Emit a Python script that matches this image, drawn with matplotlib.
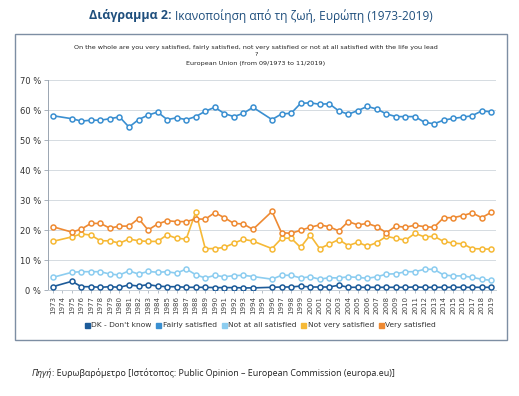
import numpy as np
import matplotlib
matplotlib.use("Agg")
import matplotlib.pyplot as plt
from matplotlib.patches import Rectangle
from matplotlib.lines import Line2D

nan = np.nan
years = [str(y) for y in range(1973, 2020)]

# values in %, 1974 and 1995 have no survey
dk_dont_know = [1.1, nan, 2.9, 1.1, 1.1, 0.9, 1.1, 0.9, 1.7, 1.3, 1.8, 1.3, 1.1, 1.1, 0.9, 0.9,
                0.9, 0.8, 0.8, 0.8, 0.7, 0.7, nan, 0.9, 1.0, 1.0, 1.3, 1.0, 1.0, 1.0, 1.6,
                0.9, 0.9, 0.9, 0.9, 0.9, 0.9, 0.9, 1.0, 0.9, 0.9, 0.9, 0.9, 0.9, 0.9, 0.9, 0.9]
fairly_satisfied = [58.1, nan, 57.1, 56.3, 56.6, 56.6, 57.1, 57.7, 54.3, 56.8, 58.3, 59.3, 56.8,
                    57.4, 56.8, 57.8, 59.6, 60.9, 58.8, 57.8, 58.9, 60.9, nan, 56.8, 58.7, 58.9,
                    62.2, 62.4, 61.9, 62.1, 59.7, 58.6, 59.8, 61.2, 60.3, 58.7, 57.8, 57.8, 57.8,
                    55.9, 55.4, 56.6, 57.2, 57.6, 58.1, 59.7, 59.4]
not_at_all = [4.2, nan, 5.9, 6.1, 6.1, 6.1, 5.3, 5.0, 6.4, 5.3, 6.2, 5.9, 6.1, 5.6, 7.0, 5.1,
              4.0, 4.9, 4.4, 4.8, 4.9, 4.5, nan, 3.6, 4.9, 4.9, 4.0, 4.4, 3.6, 4.1, 4.0, 4.4,
              4.2, 3.9, 4.4, 5.3, 5.4, 6.1, 6.1, 6.9, 6.9, 5.0, 4.7, 4.7, 4.2, 3.6, 3.2]
not_very = [16.2, nan, 17.7, 18.7, 18.3, 16.4, 16.4, 15.6, 17.0, 16.4, 16.2, 16.2, 18.4, 17.2,
            17.0, 26.0, 13.8, 13.8, 14.2, 15.6, 16.9, 16.3, nan, 13.8, 17.2, 17.3, 14.2, 18.3,
            13.8, 15.3, 16.8, 14.8, 15.9, 14.6, 15.8, 17.9, 17.2, 16.6, 18.9, 17.7, 17.9,
            16.2, 15.6, 15.4, 13.8, 13.7, 13.6]
very_satisfied = [21.1, nan, 19.3, 20.3, 22.2, 22.2, 20.6, 21.3, 21.3, 23.8, 20.0, 22.0, 23.1,
                  22.8, 22.8, 23.7, 23.6, 25.8, 24.1, 22.2, 22.0, 20.2, nan, 26.2, 19.1, 18.9,
                  19.9, 20.9, 21.7, 21.1, 19.7, 22.8, 21.7, 22.2, 21.1, 19.1, 21.3, 20.9, 21.6,
                  21.1, 20.9, 24.1, 24.1, 24.8, 25.7, 24.1, 25.9]

series = [("DK - Don't know", dk_dont_know, "#1d5b99"),
          ("Fairly satisfied", fairly_satisfied, "#3a8fd1"),
          ("Not at all satisfied", not_at_all, "#8ccdf0"),
          ("Not very satisfied", not_very, "#f6b936"),
          ("Very satisfied", very_satisfied, "#ee8a33")]

W, H = 519, 396
fig = plt.figure(figsize=(W / 100, H / 100), dpi=100)
fig.patch.set_facecolor("white")

# outer frame of the chart box
fig.patches.append(Rectangle((15 / W, 1 - 340 / H), 492 / W, 306 / H, transform=fig.transFigure,
                             fill=False, edgecolor="#7d8ea3", linewidth=1.0))

ax = fig.add_axes([48 / W, 1 - 290 / H, 448 / W, 210 / H])
x = np.arange(len(years))
for name, vals, col in series:
    v = np.array(vals, dtype=float)
    ok = ~np.isnan(v)
    ax.plot(x[ok], v[ok], color=col, linewidth=1.2, marker="o", markersize=3.6,
            markerfacecolor="white", markeredgecolor=col, markeredgewidth=1.1, zorder=3)

ax.set_xlim(-0.5, len(years) - 0.5)
ax.set_ylim(0, 70)
ax.set_yticks(range(0, 71, 10))
ax.set_yticklabels([f"{t} %" for t in range(0, 71, 10)])
ax.set_xticks(x)
ax.set_xticklabels(years, rotation=90)
ax.tick_params(axis="y", labelsize=6, colors="#333333", length=3, width=0.6, color="#9aa5b1", pad=2)
ax.tick_params(axis="x", labelsize=5.1, colors="#444444", length=2, width=0.5, color="#9aa5b1", pad=2)
ax.grid(axis="y", color="#d5dbe1", linewidth=0.7)
ax.set_axisbelow(True)
for s in ["top", "right"]:
    ax.spines[s].set_visible(False)
ax.spines["left"].set_color("#9aa5b1")
ax.spines["bottom"].set_color("#c8d0d8")
ax.spines["left"].set_linewidth(0.7)
ax.spines["bottom"].set_linewidth(0.7)

handles = [Line2D([], [], marker="s", linestyle="none", markersize=3.6, color=c) for _, _, c in series]
fig.legend(handles, [n for n, _, _ in series], loc="center", bbox_to_anchor=(260 / W, 1 - 325 / H),
           ncol=5, frameon=False, fontsize=5.4, handletextpad=0.2, columnspacing=0.5,
           handlelength=0.8, labelcolor="#333333")

# inner titles
fig.text(256 / W, 1 - 47 / H,
         "On the whole are you very satisfied, fairly satisfied, not very satisfied or not at all satisfied with the life you lead",
         ha="center", va="center", fontsize=4.6, color="#222222")
fig.text(256 / W, 1 - 55 / H, "?", ha="center", va="center", fontsize=4.6, color="#222222")
fig.text(256 / W, 1 - 63 / H, "European Union (from 09/1973 to 11/2019)", ha="center", va="center",
         fontsize=4.6, color="#222222")

# main title in two weights
fig.text(172 / W, 1 - 16 / H, "Διάγραμμα 2:", ha="right", va="center", fontsize=9,
         fontweight="bold", color="#1f4f7d", family="Open Sans")
fig.text(175 / W, 1 - 16 / H, "Ικανοποίηση από τη ζωή, Ευρώπη (1973-2019)", ha="left", va="center",
         fontsize=8.6, color="#1f4f7d", family="Open Sans")

# source line
t1 = fig.text(32 / W, 1 - 373 / H, "Πηγή", ha="left", va="center", fontsize=6.4,
              style="italic", color="#222222", family="Open Sans")
fig.canvas.draw()
bb = t1.get_window_extent()
fig.text(bb.x1 / W, 1 - 373 / H,
         ": Ευρωβαρόμετρο [Ιστότοπος: Public Opinion – European Commission (europa.eu)]",
         ha="left", va="center", fontsize=6.4, color="#222222", family="Open Sans")

fig.savefig("out.png", dpi=100)
